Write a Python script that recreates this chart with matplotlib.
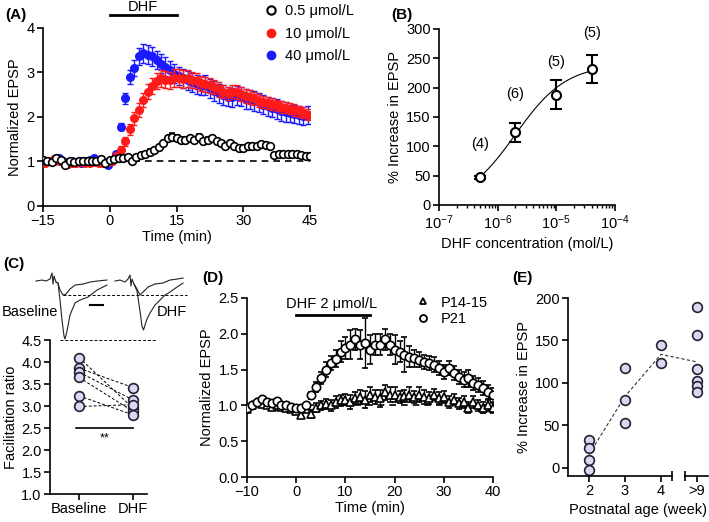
import numpy as np
import matplotlib
matplotlib.use("Agg")
import matplotlib.pyplot as plt
from matplotlib.lines import Line2D

plt.rcParams['font.family'] = ['Liberation Sans', 'DejaVu Sans']
plt.rcParams['mathtext.fontset'] = 'custom'
plt.rcParams['mathtext.rm'] = 'Liberation Sans'
plt.rcParams['font.size'] = 10.5
plt.rcParams['axes.linewidth'] = 1.2
plt.rcParams['xtick.major.width'] = 1.2
plt.rcParams['ytick.major.width'] = 1.2
plt.rcParams['xtick.major.size'] = 4
plt.rcParams['ytick.major.size'] = 4

# ---- (A) time course, three concentrations ----
t_low = np.arange(-15, 46)
epsp_low = [1.03, 1.00, 0.98, 1.07, 1.03, 0.93, 1.00, 0.98, 1.00, 1.00, 1.02, 1.00, 1.02, 1.05, 0.96,
            1.04, 1.05, 1.07, 1.07, 1.10, 1.01, 1.10, 1.14, 1.17, 1.22, 1.26, 1.33, 1.41, 1.52, 1.56,
            1.52, 1.49, 1.49, 1.52, 1.49, 1.56, 1.45, 1.49, 1.52, 1.45, 1.41, 1.35, 1.41, 1.35, 1.30,
            1.30, 1.34, 1.34, 1.34, 1.39, 1.37, 1.34, 1.15, 1.17, 1.17, 1.17, 1.17, 1.17, 1.15, 1.13, 1.12]
err_low = [0.02] * 15 + [0.02, 0.02, 0.03, 0.03, 0.03, 0.03, 0.04, 0.04, 0.04, 0.05, 0.05, 0.05, 0.06, 0.06, 0.07,
                         0.07, 0.07, 0.06, 0.05, 0.05, 0.05, 0.05, 0.05, 0.05, 0.05, 0.05, 0.05, 0.05, 0.05, 0.05,
                         0.05, 0.05, 0.05, 0.05, 0.05, 0.05, 0.05, 0.04, 0.04, 0.04, 0.04, 0.04, 0.04, 0.04, 0.04, 0.04]

t_high = np.arange(-15, 45) + 0.5
epsp_10 = [0.97, 1.00, 1.05, 1.02, 0.98, 0.95, 0.97, 0.97, 0.98, 0.96, 0.97, 0.98, 0.97, 0.96, 0.98,
           1.02, 1.12, 1.25, 1.45, 1.72, 1.97, 2.16, 2.38, 2.57, 2.70, 2.80, 2.87, 2.84, 2.82, 2.88,
           2.88, 2.85, 2.87, 2.84, 2.80, 2.76, 2.73, 2.71, 2.68, 2.62, 2.57, 2.53, 2.57, 2.56, 2.52,
           2.47, 2.45, 2.42, 2.37, 2.34, 2.31, 2.29, 2.26, 2.23, 2.21, 2.19, 2.16, 2.13, 2.10, 2.05]
err_10 = [0.03] * 15 + [0.04, 0.06, 0.09, 0.11, 0.13, 0.14, 0.15, 0.16, 0.17, 0.18, 0.18, 0.19, 0.2, 0.2, 0.2,
                        0.2, 0.2, 0.19, 0.18, 0.18, 0.17, 0.17, 0.16, 0.16, 0.16, 0.15, 0.15, 0.15, 0.15, 0.15,
                        0.15, 0.15, 0.14, 0.14, 0.14, 0.14, 0.13, 0.13, 0.13, 0.13, 0.13, 0.13, 0.12, 0.12, 0.12]
epsp_40 = [0.98, 1.02, 1.00, 1.08, 1.02, 0.97, 1.00, 0.98, 0.97, 1.00, 1.03, 1.07, 1.00, 0.98, 0.92,
           1.00, 1.17, 1.78, 2.42, 2.90, 3.11, 3.36, 3.43, 3.40, 3.36, 3.28, 3.20, 3.13, 3.05, 2.97,
           2.92, 2.87, 2.82, 2.78, 2.73, 2.70, 2.72, 2.64, 2.58, 2.53, 2.49, 2.46, 2.44, 2.48, 2.46,
           2.41, 2.39, 2.36, 2.33, 2.28, 2.24, 2.21, 2.18, 2.14, 2.11, 2.08, 2.06, 2.04, 2.03, 2.04]
err_40 = [0.03] * 15 + [0.03, 0.05, 0.08, 0.12, 0.15, 0.18, 0.2, 0.22, 0.22, 0.22, 0.21, 0.21, 0.21, 0.21, 0.21,
                        0.21, 0.21, 0.21, 0.21, 0.21, 0.21, 0.22, 0.22, 0.22, 0.22, 0.22, 0.22, 0.22, 0.22, 0.22,
                        0.22, 0.22, 0.22, 0.22, 0.22, 0.22, 0.22, 0.22, 0.22, 0.22, 0.2, 0.2, 0.2, 0.2, 0.2]

# ---- (B) concentration-response ----
conc = [5e-7, 2e-6, 1e-5, 4e-5]
increase = [47, 124, 188, 232]
increase_err = [3, 16, 25, 24]
n_cells = ['(4)', '(6)', '(5)', '(5)']
n_label_y = [104, 190, 244, 293]
hill_max, hill_ec50, hill_n = 240, 2e-6, 1.0

# ---- (C) paired-pulse facilitation ----
ppf_baseline = [4.10, 3.86, 3.77, 3.65, 3.23, 2.99]
ppf_dhf = [2.95, 3.42, 3.14, 2.88, 2.80, 3.03]
ppf_labels = ['Baseline', 'DHF']

# example traces (time, amplitude)
base_t1 = [36, 42, 46, 50, 52, 53, 54, 56, 58, 60, 63, 66, 70, 75, 83, 90, 97, 107]
base_v1 = [0, 1, 0, 2, 8, -3, 5, -1, -2, -9, -14, -13, -8, -4, -3, -1, 0, 1]
base_t2 = [56, 58, 60, 62, 64, 65, 67, 70, 75, 80, 88, 97, 107]
base_v2 = [-1, -2, -19, -39, -55, -58, -50, -34, -22, -19, -16, -9, -4]
dhf_t1 = [115, 120, 125, 128, 130, 131, 132, 134, 137, 140, 143, 148, 155, 163, 170, 177, 183]
dhf_v1 = [0, 1, -1, 2, 6, -5, 2, -3, -8, -14, -11, -6, -3, -2, 1, 2, 3]
dhf_t2 = [134, 137, 140, 142, 143.5, 145, 147, 150, 155, 160, 165, 170, 177, 183]
dhf_v2 = [-3, -10, -30, -45, -49, -44, -38, -32, -24, -19, -14, -11, -6, -2]

# ---- (D) age comparison time course ----
t_age = np.arange(-10, 41)
epsp_p21 = [0.96, 1.00, 1.05, 1.09, 1.05, 1.03, 1.06, 1.01, 1.01, 0.98, 0.97, 0.96, 1.01,
            1.14, 1.26, 1.38, 1.50, 1.59, 1.65, 1.75, 1.80, 1.85, 1.92, 1.85, 1.87, 1.78, 1.85,
            1.85, 1.92, 1.85, 1.78, 1.75, 1.71, 1.68, 1.66, 1.64, 1.61, 1.59, 1.57, 1.52, 1.47,
            1.52, 1.45, 1.40, 1.36, 1.38, 1.31, 1.28, 1.24, 1.19, 1.14]
err_p21 = [0.03] * 13 + [0.05, 0.07, 0.08, 0.1, 0.1, 0.12, 0.15, 0.15, 0.2, 0.15, 0.2, 0.35, 0.2,
                         0.15, 0.15, 0.15, 0.15, 0.2, 0.15, 0.25, 0.15, 0.12, 0.1, 0.1, 0.1, 0.1, 0.1,
                         0.1, 0.1, 0.1, 0.1, 0.1, 0.12, 0.1, 0.1, 0.1, 0.1, 0.1]
epsp_p14 = [0.95, 1.00, 1.05, 1.02, 1.00, 0.98, 1.00, 0.98, 0.97, 0.95, 0.92, 0.87, 0.95,
            0.88, 0.97, 1.00, 1.02, 1.00, 1.05, 1.07, 1.08, 1.05, 1.10, 1.12, 1.08, 1.15, 1.12,
            1.10, 1.18, 1.15, 1.15, 1.12, 1.13, 1.15, 1.12, 1.15, 1.12, 1.10, 1.15, 1.10, 1.12,
            1.05, 1.08, 1.03, 1.05, 0.97, 1.05, 1.00, 0.97, 1.00, 0.97]
err_p14 = [0.03] * 13 + [0.05, 0.06, 0.06, 0.07, 0.08, 0.08, 0.08, 0.08, 0.1, 0.08, 0.1, 0.12,
                         0.1, 0.1, 0.12, 0.1, 0.1, 0.1, 0.08, 0.08, 0.1, 0.08, 0.1, 0.1, 0.08,
                         0.08, 0.08, 0.08, 0.08, 0.08, 0.08, 0.08, 0.08, 0.08, 0.08, 0.08, 0.08, 0.08]

# ---- (E) increase vs postnatal age ----
age_labels = ['2', '3', '4', '>9']
age_groups = [[33, 23, 9, -3], [118, 80, 53], [144, 123], [189, 156, 116, 102, 96, 89]]

lavender = '#d8d8f2'

fig = plt.figure(figsize=(7.09, 5.22), dpi=100)

# A
axA = fig.add_axes([0.0607, 0.6054, 0.3766, 0.341])
axA.plot([0, 45], [1, 1], color='k', ls='--', dashes=(4, 3), lw=1.2, zorder=1)
axA.errorbar(t_high, epsp_40, yerr=err_40, fmt='o', color='#1a1aff', ms=5.5, capsize=2.5,
             elinewidth=1, capthick=1, zorder=2)
axA.errorbar(t_high, epsp_10, yerr=err_10, fmt='o', color='#ff1a1a', ms=5.5, capsize=2.5,
             elinewidth=1, capthick=1, zorder=3)
axA.errorbar(t_low, epsp_low, yerr=err_low, fmt='o', mfc='white', mec='k', ecolor='k', ms=5.5,
             mew=1.2, capsize=2.5, elinewidth=1, zorder=4)
axA.set_xlim(-15, 45)
axA.set_ylim(0, 4)
axA.set_xticks([-15, 0, 15, 30, 45])
axA.set_yticks([0, 1, 2, 3, 4])
axA.set_xlabel('Time (min)', labelpad=1)
axA.set_ylabel('Normalized EPSP', labelpad=3)
axA.plot([0, 15], [4.29, 4.29], color='k', lw=2, clip_on=False)
axA.text(7.5, 4.47, 'DHF', ha='center', va='center', fontsize=10.5)
handles = [Line2D([], [], ls='none', marker='o', mfc='white', mec='k', mew=1.5, ms=6),
           Line2D([], [], ls='none', marker='o', color='#ff1a1a', ms=6),
           Line2D([], [], ls='none', marker='o', color='#1a1aff', ms=6)]
axA.legend(handles, ['0.5 μmol/L', '10 μmol/L', '40 μmol/L'], loc='upper left',
           bbox_to_anchor=(262 / 709, 1 - 1 / 522), bbox_transform=fig.transFigure,
           frameon=False, handlelength=0.8, handletextpad=0.6, labelspacing=0.6, fontsize=10.5,
           borderaxespad=0, borderpad=0.2)

# B
axB = fig.add_axes([0.6192, 0.6073, 0.2482, 0.3372])
xc = np.logspace(np.log10(conc[0]), np.log10(conc[-1]), 200)
axB.plot(xc, hill_max * xc ** hill_n / (xc ** hill_n + hill_ec50 ** hill_n), color='k', lw=0.8)
axB.errorbar(conc, increase, yerr=increase_err, fmt='o', mfc='white', mec='k', ecolor='k', ms=6.5,
             mew=1.5, capsize=4, elinewidth=1.5, capthick=1.5, zorder=3)
axB.set_xscale('log')
axB.set_xlim(1e-7, 1e-4)
axB.set_ylim(0, 300)
axB.set_yticks(np.arange(0, 301, 50))
axB.tick_params(axis='x', which='minor', length=2, width=1)
for x, y, s in zip(conc, n_label_y, n_cells):
    axB.text(x, y, s, ha='center', va='center', fontsize=10.5)
axB.set_xlabel('DHF concentration (mol/L)', labelpad=4)
axB.set_ylabel('% Increase in EPSP', labelpad=3)

# C
axC = fig.add_axes([0.0705, 0.0536, 0.1368, 0.295])
for b, d in zip(ppf_baseline, ppf_dhf):
    axC.plot([0, 1], [b, d], color='k', ls='--', dashes=(3, 2), lw=0.7, zorder=1)
axC.plot([0] * len(ppf_baseline), ppf_baseline, 'o', mfc=lavender, mec='#202030', mew=1.2, ms=7, zorder=2)
axC.plot([1] * len(ppf_dhf), ppf_dhf, 'o', mfc=lavender, mec='#202030', mew=1.2, ms=7, zorder=2)
axC.plot([-0.05, 1.0], [2.5, 2.5], color='k', lw=1.2)
axC.text(0.48, 2.27, '**', ha='center', va='center', fontsize=9)
axC.set_xlim(-0.54, 1.26)
axC.set_ylim(1.0, 4.5)
axC.set_xticks([0, 1])
axC.set_xticklabels(ppf_labels)
axC.set_yticks(np.arange(1.0, 4.51, 0.5))
axC.set_yticklabels([f'{v:.1f}' for v in np.arange(1.0, 4.51, 0.5)])
axC.set_ylabel('Facilitation ratio', labelpad=2)

axT = fig.add_axes([0, 0.339, 190 / 709, 77 / 522])
axT.set_xlim(0, 190)
axT.set_ylim(-64, 13)
axT.axis('off')
for tt, vv in [(base_t1, base_v1), (base_t2, base_v2), (dhf_t1, dhf_v1), (dhf_t2, dhf_v2)]:
    axT.plot(tt, vv, color='#222222', lw=0.8)
axT.plot([63, 187], [-14, -14], color='k', ls='--', dashes=(3, 2), lw=0.7)
axT.plot([60, 157], [-58.5, -58.5], color='k', ls='--', dashes=(3, 2), lw=0.7)
axT.plot([90, 103], [-24, -24], color='k', lw=1.5)
axT.text(2, -31, 'Baseline', ha='left', va='center', fontsize=10.5)
axT.text(157, -31, 'DHF', ha='left', va='center', fontsize=10.5)

# D
axD = fig.add_axes([0.3484, 0.0862, 0.347, 0.343])
axD.plot([0, 40], [1, 1], color='k', ls='--', dashes=(4, 3), lw=1.2, zorder=1)
axD.errorbar(t_age, epsp_p14, yerr=err_p14, fmt='^', mfc='white', mec='k', ecolor='k', ms=5.5,
             mew=1.2, capsize=2.5, elinewidth=1, zorder=2)
axD.errorbar(t_age, epsp_p21, yerr=err_p21, fmt='o', mfc='white', mec='k', ecolor='k', ms=6,
             mew=1.2, capsize=2.5, elinewidth=1, zorder=3)
axD.set_xlim(-10, 40)
axD.set_ylim(0, 2.5)
axD.set_xticks([-10, 0, 10, 20, 30, 40])
axD.set_yticks(np.arange(0, 2.51, 0.5))
axD.set_yticklabels([f'{v:.1f}' for v in np.arange(0, 2.51, 0.5)])
axD.set_xlabel('Time (min)', labelpad=1)
axD.set_ylabel('Normalized EPSP', labelpad=3)
axD.plot([0, 15], [2.26, 2.26], color='k', lw=2)
axD.text(7.2, 2.42, 'DHF 2 μmol/L', ha='center', va='center', fontsize=10.5)
handlesD = [Line2D([], [], ls='none', marker='^', mfc='white', mec='k', mew=1.3, ms=5),
            Line2D([], [], ls='none', marker='o', mfc='white', mec='k', mew=1.3, ms=5)]
axD.legend(handlesD, ['P14-15', 'P21'], loc='upper left', bbox_to_anchor=(0.685, 1.03),
           frameon=False, handlelength=0.6, handletextpad=0.9, labelspacing=0.15, fontsize=10.5,
           borderaxespad=0, borderpad=0.2)

# E
axE = fig.add_axes([0.8011, 0.0881, 0.1975, 0.341])
means = [np.mean(g) for g in age_groups]
axE.plot([2, 3, 4, 5], means, color='#333333', ls='--', dashes=(3, 2), lw=0.8, zorder=1)
for i, g in enumerate(age_groups):
    axE.plot([i + 2] * len(g), g, 'o', mfc=lavender, mec='#202030', mew=1.2, ms=7, zorder=2)
axE.set_xlim(1.417, 5.31)
axE.set_ylim(-10, 200)
axE.set_xticks([2, 3, 4, 5])
axE.set_xticklabels(age_labels)
axE.set_yticks([0, 50, 100, 150, 200])
axE.spines['bottom'].set_bounds(1.417, 4.306)
axE.plot([4.667, 5.31], [-10, -10], color='k', lw=1.2, clip_on=False)
axE.plot([4.306, 4.667], [-10, -10], ls='none', marker='|', color='k', ms=7, mew=1.2, clip_on=False)
axE.set_xlabel('Postnatal age (week)', labelpad=3)
axE.set_ylabel('% Increase in EPSP', labelpad=3)

for ax in [axA, axB, axC, axD, axE]:
    ax.spines['top'].set_visible(False)
    ax.spines['right'].set_visible(False)
    ax.tick_params(labelsize=10.5, pad=2)

fig.text(5 / 709, 1 - 15 / 522, '(A)', fontsize=11, fontweight='bold', va='center')
fig.text(391 / 709, 1 - 15 / 522, '(B)', fontsize=11, fontweight='bold', va='center')
fig.text(3 / 709, 1 - 264 / 522, '(C)', fontsize=11, fontweight='bold', va='center')
fig.text(202 / 709, 1 - 278 / 522, '(D)', fontsize=11, fontweight='bold', va='center')
fig.text(512 / 709, 1 - 278 / 522, '(E)', fontsize=11, fontweight='bold', va='center')

fig.savefig('out.png', dpi=100)
